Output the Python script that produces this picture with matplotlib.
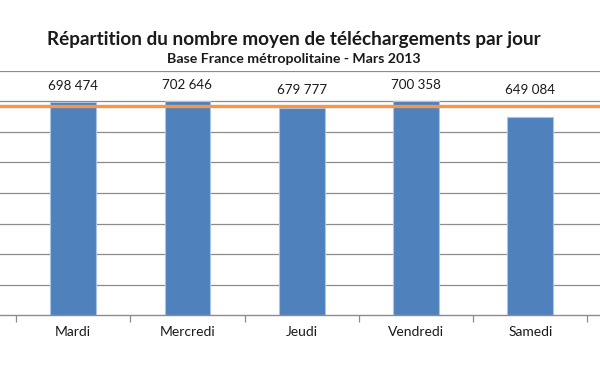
import matplotlib
matplotlib.use("Agg")
import matplotlib.pyplot as plt
import numpy as np

# Base France metropolitaine - mars 2013, the visible part of the chart
jours = ["Mardi", "Mercredi", "Jeudi", "Vendredi", "Samedi"]
telechargements = [698474, 702646, 679777, 700358, 649084]
grille = [100000, 200000, 300000, 400000, 500000, 600000, 700000, 800000]

BLEU = "#4f81bd"
ORANGE = "#f79646"
GRIS = "#8c8c8c"

plt.rcParams["font.family"] = ["Lato", "DejaVu Sans"]

fig = plt.figure(figsize=(6.0, 3.72), dpi=100)
# the source image is a crop: the plot area runs past both edges
ax = fig.add_axes([0.0, 57 / 372, 1.0, 244 / 372])

x = np.arange(len(jours))
ax.bar(x, telechargements, width=0.4, color=BLEU, edgecolor="#a9c4e6",
       linewidth=0.8, zorder=2)

# moyenne des jours affiches
moyenne = np.mean(telechargements)
ax.axhline(moyenne, color=ORANGE, linewidth=2.4, zorder=3)

for g in grille:
    ax.axhline(g, color=GRIS, linewidth=0.9, zorder=1)

# labels of bars under the mean line are lifted above it
for xi, v in zip(x, telechargements):
    base = max(v, moyenne)
    ax.annotate(f"{v:,}".replace(",", " "), (xi, base), xytext=(0, 10),
                textcoords="offset pixels", ha="center", va="bottom",
                fontsize=9.6, color="#1a1a1a", zorder=4)

ax.set_xlim(-0.64, 4.61)
ax.set_ylim(0, 800000)

# category borders get the small ticks, names sit in the middle
ax.set_xticks(np.arange(len(jours) + 1) - 0.5)
ax.set_xticklabels([])
ax.set_xticks(x, minor=True)
ax.set_xticklabels(jours, minor=True, fontsize=10, color="#1a1a1a")
ax.tick_params(axis="x", which="major", length=5, width=0.9, color=GRIS,
               direction="out")
ax.tick_params(axis="x", which="minor", length=0, pad=8)
ax.set_yticks([])

for side in ["left", "right", "top"]:
    ax.spines[side].set_visible(False)
ax.spines["bottom"].set_color(GRIS)
ax.spines["bottom"].set_linewidth(1.0)
ax.set_facecolor("white")

fig.text(0.49, 1 - 40 / 372, "Répartition du nombre moyen de téléchargements par jour",
         ha="center", va="center", fontsize=13.6, fontweight="bold",
         color="#1a1a1a")
fig.text(0.49, 1 - 59 / 372, "Base France métropolitaine - Mars 2013",
         ha="center", va="center", fontsize=10.2, fontweight="bold",
         color="#1a1a1a")

fig.savefig("out.png", dpi=100, facecolor="white")
